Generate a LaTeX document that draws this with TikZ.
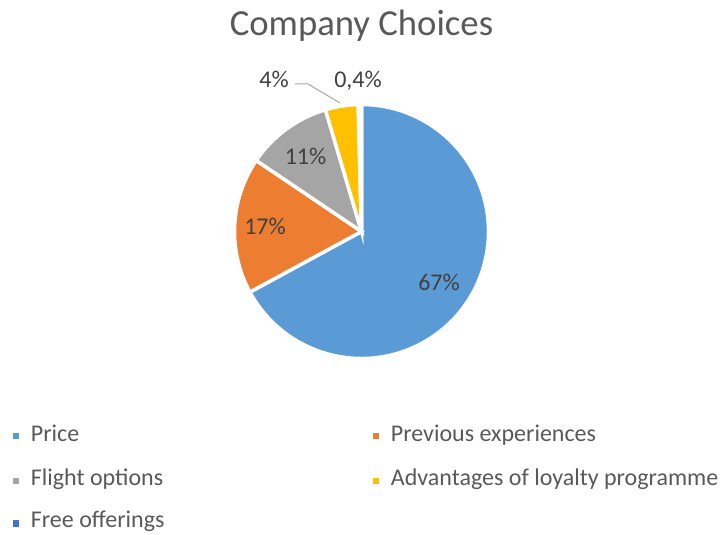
\documentclass[tikz,border=0pt]{standalone}
\usepackage{fontspec}
\setmainfont{Carlito}
\definecolor{cPrice}{HTML}{5B9BD5}
\definecolor{cPrev}{HTML}{ED7D31}
\definecolor{cFlight}{HTML}{A5A5A5}
\definecolor{cLoyal}{HTML}{FFC000}
\definecolor{cFree}{HTML}{4472C4}
\definecolor{txt}{HTML}{595959}
\definecolor{lbl}{HTML}{404040}
\definecolor{lead}{HTML}{A6A6A6}
\tikzset{
  slice/.style={draw=white, line width=3.5pt},
  datalbl/.style={inner sep=0pt, anchor=base, text=lbl, font=\fontsize{24}{28}\selectfont},
  legtxt/.style={inner sep=0pt, anchor=base west, text=txt, font=\fontsize{24}{28}\selectfont},
  legmark/.style={inner sep=0pt, minimum size=6.8pt, fill=#1},
  leader/.style={draw=lead, line width=1pt},
}
\begin{document}
\begin{tikzpicture}[x=1pt,y=1pt]
\useasboundingbox (0,0) rectangle (723,535);
\coordinate (C) at (361.5,303.5);
\def\R{127}
% slices
\filldraw[slice, fill=cPrice] (C) -- ++(208.5:\R) arc[start angle=208.5, end angle=450, radius=\R] -- cycle;
\filldraw[slice, fill=cPrev] (C) -- ++(146:\R) arc[start angle=146, end angle=208.5, radius=\R] -- cycle;
\filldraw[slice, fill=cFlight] (C) -- ++(106.5:\R) arc[start angle=106.5, end angle=146, radius=\R] -- cycle;
\filldraw[slice, fill=cLoyal] (C) -- ++(91.5:\R) arc[start angle=91.5, end angle=106.5, radius=\R] -- cycle;
\filldraw[slice, fill=cFree] (C) -- ++(90:\R) arc[start angle=90, end angle=91.5, radius=\R] -- cycle;
% title
\node[inner sep=0pt, anchor=base, text=txt, font=\fontsize{36.7}{42}\selectfont] (title) at (361.5,499) {Company Choices};
% data labels
\node[datalbl] (l67) at (439,244.3) {67\%};
\node[datalbl] (l17) at (265,300) {17\%};
\node[datalbl] (l11) at (305.5,370) {11\%};
\node[datalbl] (l4) at (274,447) {4\%};
\node[datalbl] (l04) at (358,447) {0,4\%};
% leader line
\coordinate (ldA) at (295,451);
\coordinate (ldB) at (308,451);
\coordinate (ldC) at (340,432);
\draw[leader] (ldA) -- (ldB) -- (ldC);
% legend
\node[legmark=cPrice] (m1) at (16,99) {};
\node[legtxt] (t1) at (30.7,93.3) {Price};
\node[legmark=cPrev] (m2) at (376,99) {};
\node[legtxt] (t2) at (390.7,93.3) {Previous experiences};
\node[legmark=cFlight] (m3) at (16,54) {};
\node[legtxt] (t3) at (30.7,49) {Flight options};
\node[legmark=cLoyal] (m4) at (376,54) {};
\node[legtxt] (t4) at (390.7,49) {Advantages of loyalty programme};
\node[legmark=cFree] (m5) at (16,11.5) {};
\node[legtxt] (t5) at (30.7,7) {Free offerings};
\end{tikzpicture}
\end{document}
